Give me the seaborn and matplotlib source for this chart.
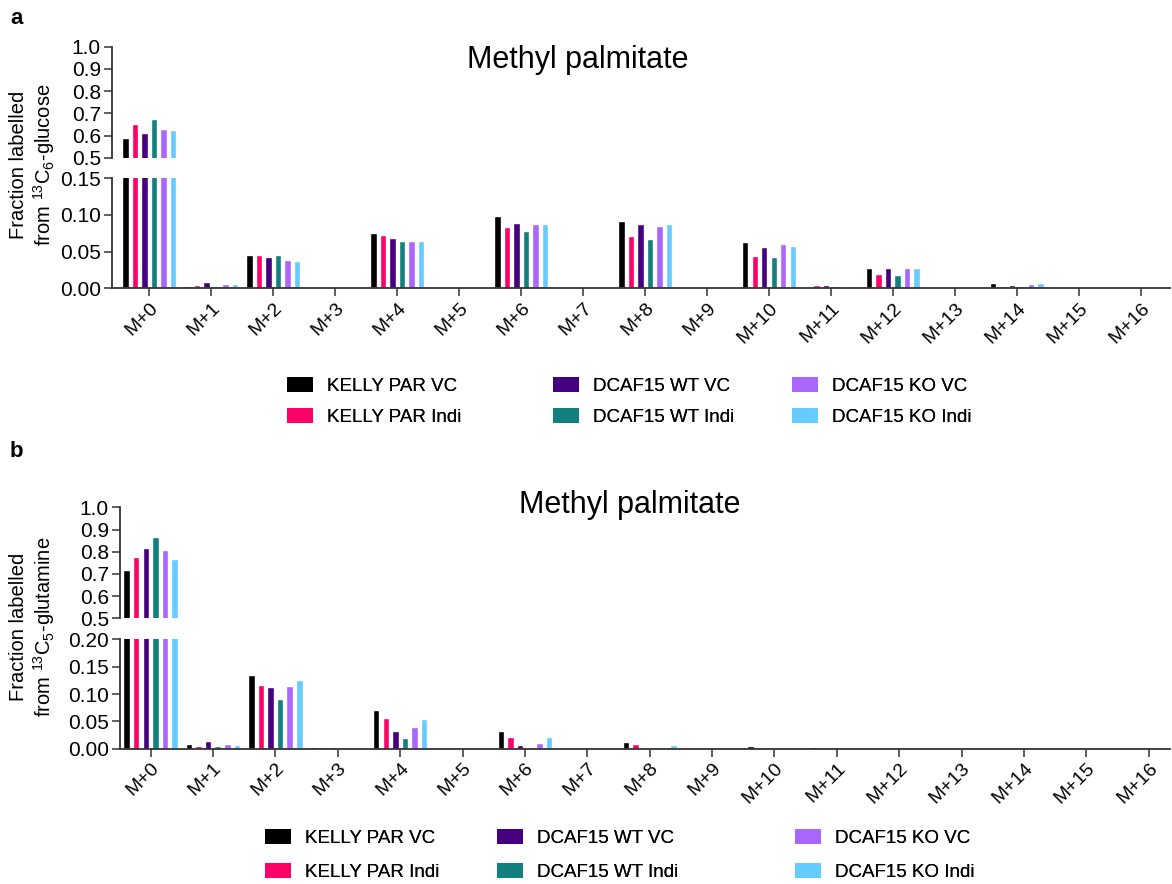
import matplotlib
matplotlib.use('Agg')
import numpy as np
import pandas as pd
import seaborn as sns
import matplotlib.pyplot as plt
from matplotlib.ticker import FormatStrFormatter
from matplotlib.patches import Patch

sns.set_style('ticks')
plt.rcParams['font.family'] = ['Liberation Sans', 'DejaVu Sans']
plt.rcParams['mathtext.default'] = 'regular'
plt.rcParams['text.color'] = 'black'
plt.rcParams['xtick.labelcolor'] = 'black'
plt.rcParams['ytick.labelcolor'] = 'black'

# isotopologues
isotopologues = ['M+%d' % i for i in range(17)]
conditions = ['KELLY PAR VC', 'KELLY PAR Indi', 'DCAF15 WT VC',
              'DCAF15 WT Indi', 'DCAF15 KO VC', 'DCAF15 KO Indi']
colors = ['#000000', '#FF0066', '#45007F', '#11807E', '#AA66FF', '#66CCFF']

# panel a: 13C6-glucose
glc_kelly_vc = [0.587, 0.003, 0.045, 0, 0.076, 0, 0.098, 0, 0.092, 0, 0.063, 0.002, 0.027, 0, 0.007, 0, 0]
glc_kelly_indi = [0.652, 0.004, 0.045, 0, 0.072, 0, 0.083, 0, 0.071, 0, 0.044, 0.004, 0.020, 0, 0.003, 0, 0]
glc_wt_vc = [0.611, 0.009, 0.042, 0, 0.069, 0, 0.089, 0, 0.088, 0, 0.056, 0.004, 0.027, 0, 0.005, 0, 0]
glc_wt_indi = [0.674, 0.003, 0.045, 0, 0.065, 0, 0.078, 0, 0.067, 0, 0.042, 0.003, 0.018, 0, 0.003, 0, 0]
glc_ko_vc = [0.628, 0.006, 0.038, 0, 0.064, 0, 0.087, 0, 0.085, 0, 0.060, 0.002, 0.027, 0, 0.006, 0, 0]
glc_ko_indi = [0.625, 0.006, 0.037, 0, 0.065, 0, 0.088, 0, 0.087, 0, 0.057, 0.003, 0.028, 0, 0.007, 0, 0]

# panel b: 13C5-glutamine
gln_kelly_vc = [0.718, 0.009, 0.134, 0.004, 0.071, 0, 0.032, 0, 0.013, 0, 0.005, 0.004, 0, 0, 0, 0, 0]
gln_kelly_indi = [0.775, 0.005, 0.117, 0.003, 0.057, 0, 0.022, 0, 0.009, 0, 0, 0.004, 0, 0, 0, 0, 0]
gln_wt_vc = [0.815, 0.014, 0.113, 0.004, 0.033, 0, 0.007, 0, 0, 0, 0, 0.002, 0, 0, 0, 0, 0]
gln_wt_indi = [0.865, 0.005, 0.090, 0, 0.020, 0, 0.0025, 0, 0, 0, 0, 0.004, 0, 0, 0, 0, 0]
gln_ko_vc = [0.808, 0.008, 0.115, 0, 0.040, 0, 0.011, 0, 0.0015, 0, 0, 0.004, 0, 0, 0, 0, 0]
gln_ko_indi = [0.767, 0.0067, 0.126, 0, 0.055, 0, 0.022, 0, 0.0067, 0, 0, 0.004, 0, 0, 0, 0, 0]


def long_df(series):
    rows = []
    for cond, vals in zip(conditions, series):
        for iso, v in zip(isotopologues, vals):
            rows.append((iso, cond, v))
    return pd.DataFrame(rows, columns=['iso', 'cond', 'frac'])


df_glc = long_df([glc_kelly_vc, glc_kelly_indi, glc_wt_vc, glc_wt_indi, glc_ko_vc, glc_ko_indi])
df_gln = long_df([gln_kelly_vc, gln_kelly_indi, gln_wt_vc, gln_wt_indi, gln_ko_vc, gln_ko_indi])

fig = plt.figure(figsize=(11.72, 8.84), dpi=100)

W, H = 1172.0, 884.0


def px_axes(left, right, top, bottom):
    return fig.add_axes([left / W, 1 - bottom / H, (right - left) / W, (bottom - top) / H])


def draw_panel(df, left, upper_box, lower_box, xlim, low_max, low_step):
    ax_up = px_axes(left, 1170, upper_box[0], upper_box[1])
    ax_lo = px_axes(left, 1170, lower_box[0], lower_box[1])
    for ax in (ax_up, ax_lo):
        sns.barplot(data=df, x='iso', y='frac', hue='cond', hue_order=conditions,
                    palette=colors, width=0.92, gap=0.32, ax=ax, legend=False,
                    errorbar=None, saturation=1)
        ax.set_xlim(*xlim)
        ax.set_xlabel('')
        ax.set_ylabel('')
        ax.tick_params(axis='both', length=6, width=1.1, color='#333333', labelsize=15, pad=2)
        for s in ('left', 'bottom'):
            ax.spines[s].set_linewidth(1.3)
            ax.spines[s].set_color('#333333')
        sns.despine(ax=ax)
    ax_up.set_ylim(0.5, 1.0)
    ax_up.set_yticks(np.arange(0.5, 1.01, 0.1))
    ax_up.yaxis.set_major_formatter(FormatStrFormatter('%.1f'))
    ax_up.spines['bottom'].set_visible(False)
    ax_up.tick_params(axis='x', bottom=False, labelbottom=False)
    ax_lo.set_ylim(0, low_max)
    ax_lo.set_yticks(np.arange(0, low_max + 1e-9, low_step))
    ax_lo.yaxis.set_major_formatter(FormatStrFormatter('%.2f'))
    ax_lo.set_xticks(range(len(isotopologues)))
    ax_lo.set_xticklabels(isotopologues, rotation=45, ha='right', rotation_mode='anchor')
    ax_lo.tick_params(axis='x', labelsize=14)
    return ax_up, ax_lo


def column_legends(y_center, xs, spacing):
    handles = [Patch(facecolor=c, edgecolor='none', label=l) for c, l in zip(colors, conditions)]
    for i, x in enumerate(xs):
        leg = fig.legend(handles=handles[2 * i:2 * i + 2], loc='center left',
                         bbox_to_anchor=(x / W, 1 - y_center / H), frameon=False,
                         fontsize=13.5, handlelength=1.4, handleheight=0.85,
                         handletextpad=0.75, labelspacing=spacing, borderpad=0,
                         borderaxespad=0)
        fig.add_artist(leg)


# panel a
draw_panel(df_glc, 112, (46.7, 157.7), (178.3, 288.3), (-0.6, 16.47), 0.15, 0.05)
fig.text(578 / W, 1 - 60 / H, 'Methyl palmitate', ha='center', va='center', fontsize=22)
fig.text(33 / W, 1 - 165 / H, 'Fraction labelled\nfrom $^{13}$C$_{6}$-glucose', rotation=90,
         ha='center', va='center', multialignment='center', fontsize=14.5)
fig.text(10 / W, 1 - 18 / H, 'a', fontsize=16, fontweight='bold', ha='left', va='center')
column_legends(401.5, [287, 553, 792], 0.65)

# panel b
draw_panel(df_gln, 120, (507.3, 618.3), (639.3, 748.7), (-0.49, 16.34), 0.20, 0.05)
fig.text(630 / W, 1 - 505 / H, 'Methyl palmitate', ha='center', va='center', fontsize=22)
fig.text(33 / W, 1 - 627 / H, 'Fraction labelled\nfrom $^{13}$C$_{5}$-glutamine', rotation=90,
         ha='center', va='center', multialignment='center', fontsize=14.5)
fig.text(10 / W, 1 - 452 / H, 'b', fontsize=16, fontweight='bold', ha='left', va='center')
column_legends(855, [265, 497, 795], 0.82)

fig.savefig('out.png', dpi=100)
